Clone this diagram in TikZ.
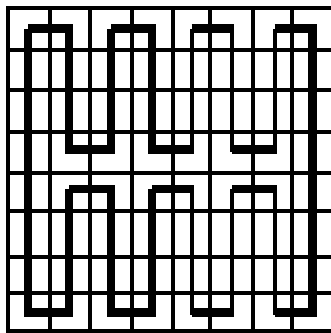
\documentclass[tikz,border=0pt]{standalone}
\usepackage{tikz}
\begin{document}
\begin{tikzpicture}[
  x=1pt, y=-1pt,
  gridline/.style={line width=4pt},
  trace/.style={line width=8.5pt},
  thintrace/.style={line width=4pt}
]
\useasboundingbox (0,0) rectangle (331,333);

% Frame
\draw[gridline] (331,8) -- (8,8) -- (8,330.5) -- (331,330.5);

% Grid
\foreach \y in {49.5,90,131.5,173,211,256.5,293}
  \draw[gridline] (8,\y) -- (331,\y);
\foreach \x in {49.5,90.3,131.8,172.8,210,252.5,292}
  \draw[gridline] (\x,8) -- (\x,330.5);

% Serpentine, upper half
\foreach \xl/\xr in {28/73.25, 111/156.25, 191.5/234, 274.5/316.75}
  \draw[trace] (\xl,28.5) -- (\xr,28.5);
\foreach \xl/\xr in {69/115.25, 152/193.5, 232/276.5}
  \draw[trace] (\xl,149.5) -- (\xr,149.5);

% Serpentine, lower half
\foreach \xl/\xr in {69/115.25, 152/193.5, 232/276.5}
  \draw[trace] (\xl,189) -- (\xr,189);
\foreach \xl/\xr in {28/73.25, 111/156.25, 191.5/234, 274.5/316.75}
  \draw[trace] (\xl,312.5) -- (\xr,312.5);

% Legs
\foreach \x in {69,111,152} {
  \draw[trace] (\x,28.5) -- (\x,153.75);
  \draw[trace] (\x,189) -- (\x,316.75);
}
\foreach \x in {191.5,232,274.5} {
  \draw[thintrace] (\x,28.5) -- (\x,151.5);
  \draw[thintrace] (\x,189) -- (\x,314.5);
}
\foreach \x in {28,312.5}
  \draw[trace] (\x,28.5) -- (\x,316.75);

\end{tikzpicture}
\end{document}
